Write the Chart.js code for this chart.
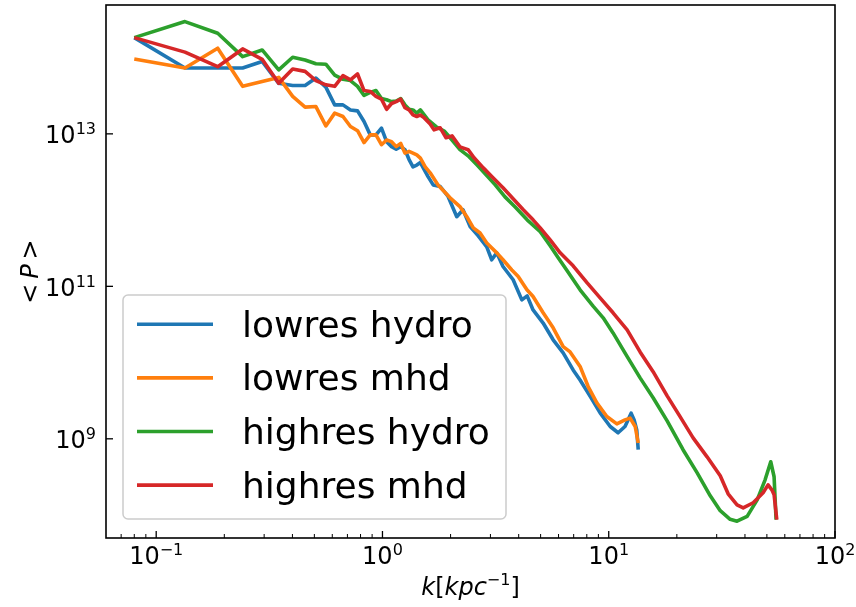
<!DOCTYPE html>
<html>
<head>
<meta charset="utf-8">
<title>&lt;P&gt; vs k</title>
<script src="https://cdn.jsdelivr.net/npm/chart.js@4"></script>
<style>
  html, body { margin: 0; padding: 0; background: #fff; }
  canvas { display: block; }
</style>
</head>
<body>
<canvas id="spectrum" width="856" height="607"></canvas>
<script>
// shared k bins for the low-k end (both resolutions use the same box)
const kBins = [0.080, 0.134, 0.187, 0.241, 0.294, 0.348, 0.401, 0.455, 0.508, 0.562, 0.615, 0.669, 0.722, 0.776,
  0.829, 0.883, 0.936, 0.990, 1.043, 1.097, 1.150, 1.204, 1.257, 1.311, 1.364, 1.418, 1.471];

// lowres hydro
const pLowHydroHead = [1.83e14, 7.3e13, 7.3e13, 7.3e13, 8.9e13, 4.6e13, 4.3e13, 4.3e13, 5.4e13, 4.1e13, 2.4e13, 2.4e13,
  2.06e13, 2.0e13, 1.45e13, 9.7e12, 9.7e12, 1.19e13, 7.9e12, 6.8e12, 6.3e12, 6.8e12, 6.2e12, 4.6e12, 3.7e12, 3.9e12, 4.2e12];
const kLowHydroTail = [1.59, 1.675, 1.80, 1.95, 2.13, 2.27, 2.44, 2.65, 2.89, 3.04, 3.20, 3.41, 3.78, 4.13, 4.36, 4.63,
  5.13, 5.68, 6.29, 6.96, 7.47, 8.28, 9.16, 10.15, 11.0, 11.8, 12.56, 12.95, 13.3, 13.5];
const pLowHydroTail = [2.75e12, 2.14e12, 2.04e12, 1.51e12, 8.2e11, 1.01e12, 6.1e11, 4.6e11, 3.3e11, 2.23e11, 2.75e11,
  1.82e11, 1.22e11, 6.65e10, 7.5e10, 4.9e10, 3.3e10, 1.99e10, 1.34e10, 8.0e9, 5.9e9, 3.6e9, 2.19e9, 1.45e9, 1.20e9,
  1.45e9, 2.17e9, 1.77e9, 1.31e9, 7.2e8];

// lowres mhd
const pLowMhdHead = [9.6e13, 7.3e13, 1.33e14, 4.2e13, 4.85e13, 5.5e13, 3.1e13, 2.24e13, 2.28e13, 1.27e13, 1.87e13, 1.69e13,
  1.25e13, 1.10e13, 7.7e12, 9.7e12, 9.7e12, 7.2e12, 8.3e12, 7.9e12, 6.8e12, 7.5e12, 5.6e12, 5.9e12, 5.6e12, 5.3e12, 4.8e12];
const kLowMhdTail = [1.545, 1.625, 1.76, 1.99, 2.20, 2.36, 2.52, 2.70, 2.89, 3.20, 3.41, 3.73, 3.98, 4.35, 4.63, 5.13,
  5.68, 6.29, 6.75, 7.47, 8.11, 8.86, 9.81, 10.86, 11.8, 12.43, 13.09, 13.5];
const pLowMhdTail = [3.7e12, 3.08e12, 2.14e12, 1.45e12, 1.11e12, 8.2e11, 5.85e11, 5.0e11, 3.7e11, 2.75e11, 2.23e11,
  1.64e11, 1.35e11, 9.0e10, 7.35e10, 4.5e10, 2.86e10, 1.62e10, 1.38e10, 8.9e9, 4.85e9, 2.96e9, 1.96e9, 1.57e9, 1.77e9,
  1.87e9, 1.45e9, 8.8e8];

// highres hydro
const pHighHydroHead = [1.83e14, 2.97e14, 2.09e14, 1.03e14, 1.26e14, 6.9e13, 1.01e14, 9.3e13, 8.3e13, 8.2e13, 5.9e13, 5.2e13,
  5.0e13, 4.2e13, 3.2e13, 3.5e13, 3.7e13, 2.9e13, 2.8e13, 2.65e13, 2.7e13, 2.9e13, 2.4e13, 2.1e13, 2.06e13, 1.87e13, 2.06e13];
const kHighHydroTail = [1.59, 1.727, 1.874, 2.03, 2.20, 2.39, 2.62, 2.87, 3.15, 3.48, 3.86, 4.36, 4.98, 5.51, 5.98, 6.55,
  7.47, 8.53, 9.45, 10.45, 11.94, 13.76, 15.71, 18.12, 21.3, 24.6, 28.1, 31.1, 34.4, 36.9, 40.9, 45.3, 49.1, 52.0, 53.8, 54.9];
const pHighHydroTail = [1.53e13, 1.24e13, 1.09e13, 8.3e12, 6.2e12, 5.15e12, 3.9e12, 2.9e12, 2.14e12, 1.49e12, 1.10e12,
  7.45e11, 5.2e11, 3.4e11, 2.37e11, 1.60e11, 9.0e10, 5.5e10, 3.86e10, 2.45e10, 1.26e10, 6.3e9, 3.45e9, 1.72e9, 7.2e8,
  3.58e8, 1.79e8, 1.14e8, 8.8e7, 8.3e7, 9.6e7, 1.58e8, 2.9e8, 5.0e8, 3.18e8, 8.7e7];

// highres mhd
const pHighMhdHead = [1.83e14, 1.18e14, 7.6e13, 1.30e14, 9.5e13, 4.6e13, 7.1e13, 6.6e13, 5.0e13, 4.4e13, 4.2e13, 5.8e13,
  5.1e13, 6.1e13, 3.7e13, 3.6e13, 3.1e13, 2.85e13, 2.1e13, 2.5e13, 2.65e13, 2.85e13, 2.2e13, 2.06e13, 1.77e13, 1.69e13, 1.77e13];
const kHighMhdTail = [1.53, 1.625, 1.69, 1.80, 1.91, 2.03, 2.20, 2.39, 2.54, 2.79, 3.08, 3.41, 3.78, 4.19, 4.63, 4.98,
  5.51, 6.10, 6.96, 8.03, 9.16, 10.45, 12.06, 13.76, 15.71, 18.12, 20.7, 23.6, 27.2, 31.1, 33.7, 36.9, 39.3, 43.5, 48.1,
  50.6, 52.6, 53.8, 55.3];
const pHighMhdTail = [1.62e13, 1.35e13, 1.13e13, 1.20e13, 8.9e12, 9.4e12, 6.75e12, 6.2e12, 4.85e12, 3.58e12, 2.65e12,
  1.96e12, 1.41e12, 1.01e12, 7.45e11, 5.85e11, 4.07e11, 2.75e11, 1.86e11, 1.11e11, 7.06e10, 4.5e10, 2.69e10, 1.38e10,
  7.6e9, 3.66e9, 1.94e9, 1.03e9, 5.8e8, 3.27e8, 1.90e8, 1.36e8, 1.24e8, 1.45e8, 1.96e8, 2.49e8, 2.14e8, 1.85e8, 8.7e7];

const seriesLabels = ['lowres hydro', 'lowres mhd', 'highres hydro', 'highres mhd'];
const seriesColors = ['#1f77b4', '#ff7f0e', '#2ca02c', '#d62728'];

// axis ticks (labels are 10^exp)
const xTickValues = [0.1, 1, 10, 100];
const xTickExps = ['\u22121', '0', '1', '2'];
const yTickValues = [1e9, 1e11, 1e13];
const yTickExps = ['9', '11', '13'];

const X_MIN = 0.06, X_MAX = 100;
const Y_MIN = 5.0e7, Y_MAX = 4.9e14;
const LINE_W = 3.6;

function toPoints(ks, ps) {
  return ks.map((k, i) => ({ x: k, y: ps[i] }));
}

const seriesPoints = [
  toPoints(kBins.concat(kLowHydroTail), pLowHydroHead.concat(pLowHydroTail)),
  toPoints(kBins.concat(kLowMhdTail), pLowMhdHead.concat(pLowMhdTail)),
  toPoints(kBins.concat(kHighHydroTail), pHighHydroHead.concat(pHighHydroTail)),
  toPoints(kBins.concat(kHighMhdTail), pHighMhdHead.concat(pHighMhdTail)),
];

const FONT = '"DejaVu Sans"';

// draw a row of text pieces with different fonts / vertical offsets
function drawRuns(ctx, runs, x, y, align) {
  let total = 0;
  runs.forEach(r => { ctx.font = r.font; r.w = ctx.measureText(r.t).width; total += r.w; });
  let cx = align === 'center' ? x - total / 2 : align === 'right' ? x - total : x;
  ctx.textBaseline = 'alphabetic';
  ctx.textAlign = 'left';
  runs.forEach(r => {
    ctx.font = r.font;
    ctx.fillText(r.t, cx, y + (r.dy || 0));
    cx += r.w;
  });
}

function powRuns(exp) {
  return [
    { t: '10', font: `24px ${FONT}` },
    { t: exp, font: `16px ${FONT}`, dy: -9.3 },
  ];
}

const axesDecor = {
  id: 'axesDecor',
  afterDatasetsDraw(chart) {
    const { ctx, chartArea: a, scales: { x, y } } = chart;
    ctx.save();

    // legend box
    const lx = 123, ly = 295, lw = 383, lh = 224, r = 5;
    ctx.beginPath();
    ctx.roundRect(lx, ly, lw, lh, r);
    ctx.fillStyle = 'rgba(255,255,255,0.8)';
    ctx.fill();
    ctx.strokeStyle = '#cccccc';
    ctx.lineWidth = 1.5;
    ctx.stroke();
    chart.data.datasets.forEach((ds, i) => {
      const ry = 324.3 + i * 53.6;
      ctx.beginPath();
      ctx.moveTo(137, ry);
      ctx.lineTo(213, ry);
      ctx.strokeStyle = ds.borderColor;
      ctx.lineWidth = LINE_W;
      ctx.stroke();
      ctx.fillStyle = '#000';
      ctx.font = `36px ${FONT}`;
      ctx.textAlign = 'left';
      ctx.textBaseline = 'alphabetic';
      ctx.fillText(ds.label, 242, ry + 12.4);
    });

    // frame
    ctx.strokeStyle = '#000';
    ctx.lineWidth = 1.6;
    ctx.strokeRect(a.left, a.top, a.right - a.left, a.bottom - a.top);

    // x ticks, pointing inward
    ctx.lineWidth = 1.3;
    xTickValues.forEach(v => {
      const px = x.getPixelForValue(v);
      ctx.beginPath(); ctx.moveTo(px, a.bottom); ctx.lineTo(px, a.bottom - 7); ctx.stroke();
    });
    ctx.lineWidth = 1;
    for (let dec = 0.01; dec < X_MAX; dec *= 10) {
      for (let m = 2; m <= 9; m++) {
        const v = m * dec;
        if (v <= X_MIN || v >= X_MAX) continue;
        const px = x.getPixelForValue(v);
        ctx.beginPath(); ctx.moveTo(px, a.bottom); ctx.lineTo(px, a.bottom - 4); ctx.stroke();
      }
    }
    // y ticks
    ctx.lineWidth = 1.3;
    yTickValues.forEach(v => {
      const py = y.getPixelForValue(v);
      ctx.beginPath(); ctx.moveTo(a.left, py); ctx.lineTo(a.left + 7, py); ctx.stroke();
    });

    // tick labels
    ctx.fillStyle = '#000';
    xTickValues.forEach((v, i) => {
      drawRuns(ctx, powRuns(xTickExps[i]), x.getPixelForValue(v), a.bottom + 26, 'center');
    });
    yTickValues.forEach((v, i) => {
      drawRuns(ctx, powRuns(yTickExps[i]), a.left - 10, y.getPixelForValue(v) + 9.5, 'right');
    });

    // x axis title: k[kpc^-1]
    drawRuns(ctx, [
      { t: 'k', font: `italic 24px ${FONT}` },
      { t: '[', font: `24px ${FONT}` },
      { t: 'kpc', font: `italic 24px ${FONT}` },
      { t: '\u22121', font: `16px ${FONT}`, dy: -10 },
      { t: ']', font: `24px ${FONT}` },
    ], (a.left + a.right) / 2, 595, 'center');

    // y axis title: < P >
    ctx.translate(38, (a.top + a.bottom) / 2);
    ctx.rotate(-Math.PI / 2);
    drawRuns(ctx, [
      { t: '<', font: `24px ${FONT}` },
      { t: '\u2009', font: `24px ${FONT}` },
      { t: 'P', font: `italic 24px ${FONT}` },
      { t: '\u2009', font: `24px ${FONT}` },
      { t: '>', font: `24px ${FONT}` },
    ], 0, 0, 'center');

    ctx.restore();
  }
};

new Chart(document.getElementById('spectrum'), {
  type: 'line',
  data: {
    datasets: seriesPoints.map((pts, i) => ({
      label: seriesLabels[i],
      data: pts,
      borderColor: seriesColors[i],
      backgroundColor: seriesColors[i],
      borderWidth: LINE_W,
      pointRadius: 0,
      tension: 0,
      fill: false,
      borderJoinStyle: 'round',
      order: seriesPoints.length - i
    }))
  },
  options: {
    responsive: false,
    devicePixelRatio: 1,
    animation: false,
    parsing: false,
    layout: { padding: { top: 5, right: 21, left: 0, bottom: 0 } },
    plugins: { legend: { display: false }, tooltip: { enabled: false } },
    scales: {
      x: {
        type: 'logarithmic',
        min: X_MIN, max: X_MAX,
        grid: { display: false },
        border: { display: false },
        ticks: { display: false },
        afterFit(scale) { scale.height = 69; }
      },
      y: {
        type: 'logarithmic',
        min: Y_MIN, max: Y_MAX,
        grid: { display: false },
        border: { display: false },
        ticks: { display: false },
        afterFit(scale) { scale.width = 106; }
      }
    }
  },
  plugins: [axesDecor]
});
</script>
</body>
</html>
